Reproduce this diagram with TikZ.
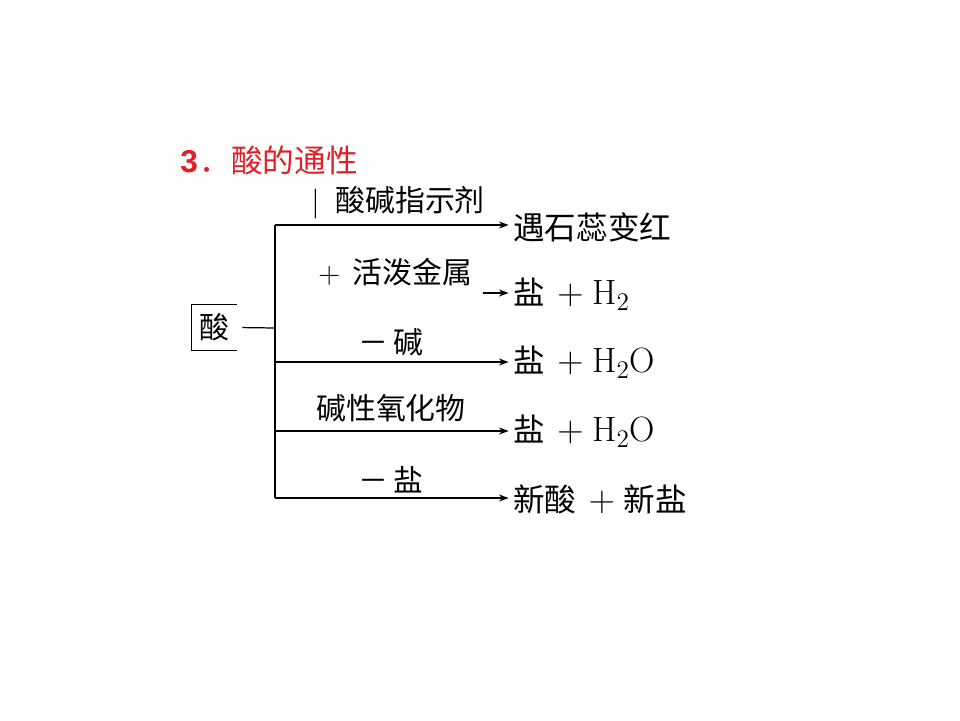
\documentclass[tikz,border=0pt]{standalone}
\usepackage{fontspec}
\usepackage{xcolor}
\usepackage{tikz}
\usetikzlibrary{positioning,arrows.meta}
\newfontfamily\cjk{Noto Sans CJK SC}
\definecolor{titlered}{RGB}{228,30,38}
\newcommand{\rmbig}{\fontsize{20}{24}\selectfont\rmfamily}
\newcommand{\pl}{\hspace{7pt}{\rmbig $+$}\hspace{5pt}}
\newcommand{\water}{{\rmbig H$_2$O}}
\tikzset{
  ttl/.style={anchor=west, inner sep=0pt, text=titlered, font=\fontsize{18}{21}\selectfont\cjk},
  acidbox/.style={rectangle, minimum width=0.9cm, minimum height=0.9cm, inner sep=0pt,
    font=\fontsize{17}{20}\selectfont\cjk},
  cond/.style={inner sep=0pt, font=\fontsize{17}{20}\selectfont\cjk},
  prod/.style={anchor=west, inner sep=0pt, font=\fontsize{18}{21}\selectfont\cjk},
  flow/.style={-{Stealth[length=5.5pt, width=4pt]}, draw=black, line width=0.7pt, shorten >=2.5pt},
  trunk/.style={draw=black, line width=0.7pt},
}

\begin{document}
\begin{tikzpicture}[x=0.02cm, y=-0.02cm]
\useasboundingbox (0,0) rectangle (960,720);
% ---- title ----
\node[ttl] (title) at (180,160) {{\fontspec{Liberation Sans}\bfseries 3}\hspace{1pt}．酸的通性};
% ---- acid box (open on the right) ----
\node[acidbox] (acid) at (214.5,327.5) {酸};
\draw[trunk] (acid.north east) -- (acid.north west) -- (acid.south west) -- (acid.south east);
% ---- trunk ----
\coordinate (stem) at (275,328);
\coordinate (top)  at (275,225);
\coordinate (bot)  at (275,498);
\coordinate (b3)   at (275,362);
\coordinate (b4)   at (275,431);
\coordinate (s2)   at (483,293);
% ---- products ----
\node[prod] (r1) at (513,227) {遇石蕊变红};
\node[prod] (r2) at (513,294) {盐\pl{\rmbig H$_2$}};
\node[prod] (r3) at (513,362) {盐\pl\water};
\node[prod] (r4) at (513,431) {盐\pl\water};
\node[prod] (r5) at (513,499) {新酸\pl 新盐};
% ---- conditions ----
\node[cond, anchor=west] (c1) at (311,203) {{\rmfamily |}\hspace{9pt}酸碱指示剂};
\node[cond, anchor=west] (c2) at (318,272) {{\rmfamily $+$}\hspace{7pt}活泼金属};
\node[cond] (c3) at (391,342) {－\,碱};
\node[cond] (c4) at (391,408) {碱性氧化物};
\node[cond] (c5) at (391,480) {－\,盐};
% ---- arrows ----
\draw[trunk, shorten <=2.8pt] (acid.east) -- (stem);
\draw[trunk] (top) -- (bot);
\draw[flow] (top) -- (r1.west |- top);
\draw[flow] (s2) -- (r2.west |- s2);
\draw[flow] (b3) -- (r3.west);
\draw[flow] (b4) -- (r4.west);
\draw[flow] (bot) -- (r5.west |- bot);
\end{tikzpicture}
\end{document}
